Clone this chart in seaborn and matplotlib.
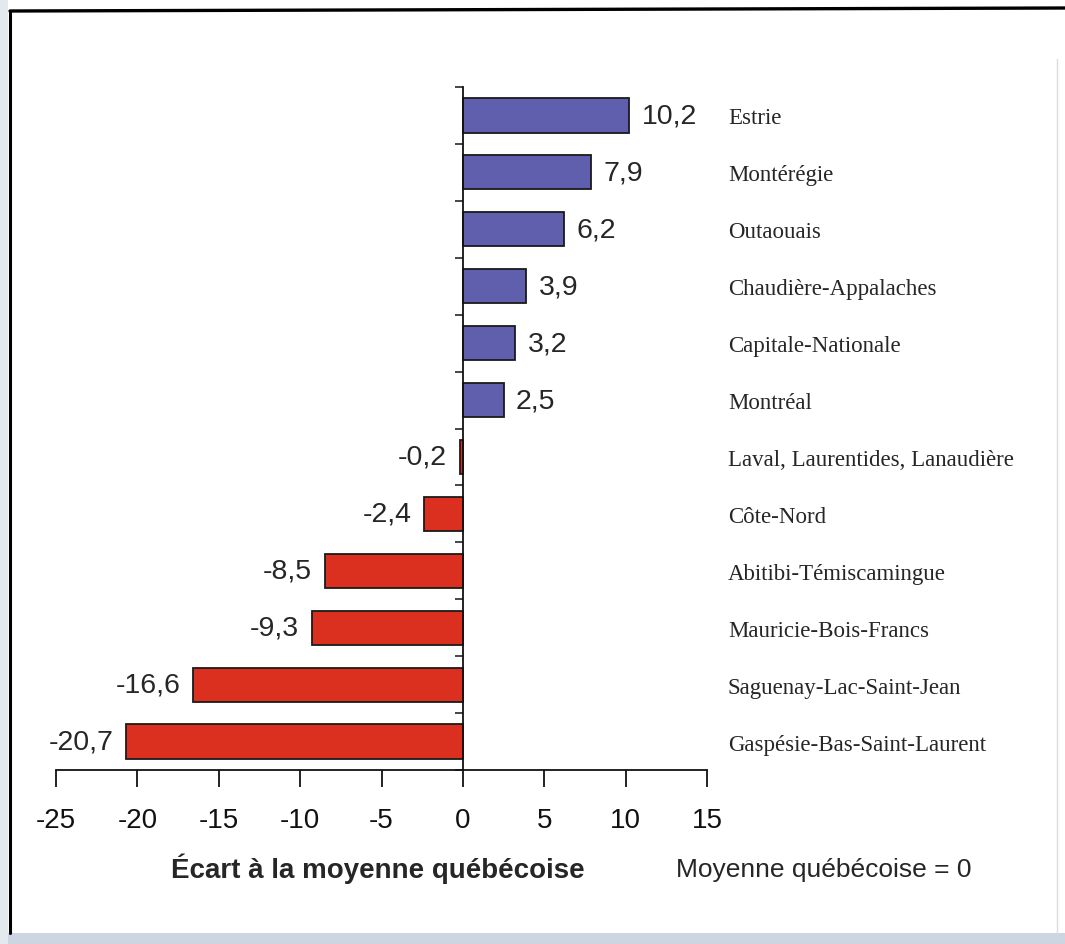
import pandas as pd
import numpy as np
import matplotlib.pyplot as plt
import seaborn as sns
from matplotlib.lines import Line2D
from matplotlib.patches import Rectangle

# Données : écart à la moyenne québécoise par région
regions = ['Estrie', 'Montérégie', 'Outaouais', 'Chaudière-Appalaches',
           'Capitale-Nationale', 'Montréal', 'Laval, Laurentides, Lanaudière',
           'Côte-Nord', 'Abitibi-Témiscamingue', 'Mauricie-Bois-Francs',
           'Saguenay-Lac-Saint-Jean', 'Gaspésie-Bas-Saint-Laurent']
ecarts = [10.2, 7.9, 6.2, 3.9, 3.2, 2.5, -0.2, -2.4, -8.5, -9.3, -16.6, -20.7]
xticks = [-25, -20, -15, -10, -5, 0, 5, 10, 15]

df = pd.DataFrame({'Region': regions, 'Ecart': ecarts})
df['Signe'] = np.where(df['Ecart'] >= 0, 'pos', 'neg')

sns.set_style('white')
plt.rcParams['font.family'] = ['Liberation Sans', 'DejaVu Sans']

fig = plt.figure(figsize=(10.65, 9.45), dpi=100)
ax = fig.add_axes([56 / 1065, 1 - 771 / 945, (707 - 56) / 1065, (771 - 88) / 945])

sns.barplot(data=df, x='Ecart', y='Region', hue='Signe', order=regions,
            palette={'pos': '#5f5fae', 'neg': '#db2f1f'}, dodge=False,
            width=0.6, edgecolor='#1a1a1a', linewidth=1.3, legend=False,
            saturation=1, ax=ax)

# étiquettes de valeurs (virgule décimale)
for cont in ax.containers:
    labs = [f"{v:.1f}".replace('.', ',') for v in cont.datavalues]
    ax.bar_label(cont, labels=labs, padding=9, fontsize=20.5,
                 family=['Liberation Sans', 'DejaVu Sans'])

ax.set_xlim(-25, 15)
ax.set_ylim(len(regions) - 0.5, -0.5)
ax.set_xticks(xticks)
ax.set_xticklabels([str(t) for t in xticks], fontsize=20)
ax.tick_params(axis='x', direction='out', length=12, width=1.3, pad=15,
               bottom=True, colors='#111111')

# axe vertical à zéro, graduations entre les catégories
ax.spines['left'].set_position(('data', 0))
for s in ['top', 'right']:
    ax.spines[s].set_visible(False)
for s in ['left', 'bottom']:
    ax.spines[s].set_linewidth(1.3)
    ax.spines[s].set_color('#111111')

ax.set_yticks(range(len(regions)))
ax.set_yticklabels(regions, family=['Liberation Serif', 'DejaVu Serif'], fontsize=16.5)
ax.set_yticks(np.arange(-0.5, len(regions), 1), minor=True)
ax.tick_params(axis='y', which='major', left=False, right=False,
               labelleft=False, labelright=True, length=0, pad=15)
ax.tick_params(axis='y', which='minor', left=True, right=False,
               direction='out', length=6, width=1.2)
ax.set_ylabel('')
ax.set_xlabel('')

fig.text(378 / 1065, 1 - 869 / 945, 'Écart à la moyenne québécoise',
         fontsize=20, fontweight='bold', ha='center', va='center')
fig.text(676 / 1065, 1 - 870 / 945, 'Moyenne québécoise = 0',
         fontsize=19, ha='left', va='center')

# cadre et bande grise du bas
fig.add_artist(Rectangle((0, 0), 1, 11 / 945, transform=fig.transFigure,
                         color='#cdd5e3', lw=0))
fig.add_artist(Rectangle((0, 0), 8 / 1065, 1, transform=fig.transFigure,
                         color='#e4e8ef', lw=0))
fig.add_artist(Line2D([10 / 1065, 10 / 1065], [11 / 945, 1 - 12 / 945],
                      transform=fig.transFigure, color='black', lw=2.2))
fig.add_artist(Line2D([10 / 1065, 1], [1 - 12 / 945, 1 - 9 / 945],
                      transform=fig.transFigure, color='black', lw=2.4))
fig.add_artist(Line2D([1057 / 1065, 1057 / 1065], [11 / 945, 1 - 60 / 945],
                      transform=fig.transFigure, color='#dddddd', lw=1))

fig.savefig('out.png', dpi=100)
